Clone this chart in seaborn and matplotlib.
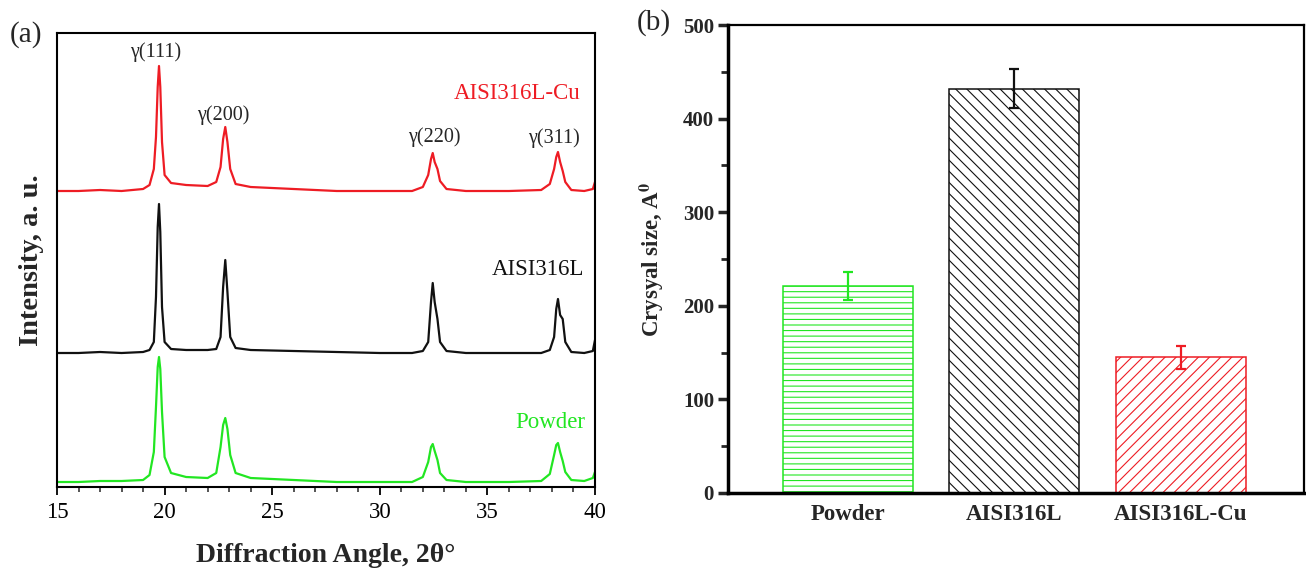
import numpy as np
import pandas as pd
import matplotlib
matplotlib.use("Agg")
import matplotlib.pyplot as plt
from matplotlib.ticker import MultipleLocator
import seaborn as sns

sns.set_theme(style="ticks")
plt.rcParams['font.family'] = ['Liberation Serif', 'DejaVu Serif']
plt.rcParams['mathtext.fontset'] = 'stix'
plt.rcParams['hatch.linewidth'] = 0.8

# ---- panel (a): XRD patterns (intensity in a.u.) ----
tth = [15.0, 16.0, 17.0, 18.0, 19.0, 19.3, 19.5, 19.6, 19.68, 19.74, 19.8, 19.88, 20.0, 20.3,
       21.0, 22.0, 22.4, 22.6, 22.72, 22.82, 22.92, 23.05, 23.3, 24.0, 26.0, 28.0, 30.0,
       31.5, 32.0, 32.25, 32.38, 32.46, 32.55, 32.68, 32.8, 33.1, 34.0, 36.0, 37.5, 37.9,
       38.1, 38.2, 38.28, 38.38, 38.5, 38.62, 38.9, 39.5, 39.9, 40.0]

cu_int = [296, 296, 297, 296, 298, 302, 318, 350, 400, 421, 400, 345, 312, 304,
          302, 301, 305, 320, 348, 360, 345, 318, 303, 300, 298, 296, 296,
          296, 300, 312, 328, 334, 325, 318, 306, 298, 296, 296, 297, 303,
          318, 330, 335, 325, 316, 305, 297, 296, 298, 305]

ss_int = [134, 134, 135, 134, 135, 137, 145, 190, 260, 283, 255, 180, 145, 138,
          137, 137, 138, 150, 200, 227, 195, 150, 139, 137, 136, 135, 134,
          134, 136, 145, 185, 204, 185, 168, 145, 136, 134, 134, 134, 137,
          150, 178, 188, 172, 168, 145, 135, 134, 136, 147]

powder_int = [5, 5, 6, 6, 7, 12, 35, 80, 120, 130, 118, 75, 30, 14,
              10, 9, 14, 40, 62, 69, 58, 32, 14, 9, 7, 5, 5,
              5, 10, 25, 40, 43, 36, 27, 14, 7, 5, 5, 6, 13,
              32, 42, 44, 35, 26, 15, 7, 6, 9, 15]

peak_labels = ["γ(111)", "γ(200)", "γ(220)", "γ(311)"]
peak_pos = [19.58, 22.73, 32.54, 38.11]
peak_lab_y = [435, 372, 350, 349]

# ---- panel (b): crystal size ----
samples = ["Powder", "AISI316L", "AISI316L-Cu"]
size = [221, 432, 145]
size_err = [15, 21, 12]

RED = '#ee1c24'
GREEN = '#22e622'
BLACK = '#111111'
colors = [GREEN, BLACK, RED]
hatches = ['---', '\\\\\\', '///']

fig = plt.figure(figsize=(13.06, 5.70), dpi=100)
ax1 = fig.add_axes([0.04364, 0.14561, 0.41194, 0.79649])
ax2 = fig.add_axes([0.55743, 0.13509, 0.44100, 0.82105])

# panel a
sns.lineplot(x=tth, y=cu_int, color=RED, lw=1.6, ax=ax1)
sns.lineplot(x=tth, y=ss_int, color=BLACK, lw=1.6, ax=ax1)
sns.lineplot(x=tth, y=powder_int, color=GREEN, lw=1.6, ax=ax1)
ax1.set_xlim(15, 40)
ax1.set_ylim(0, 454)
ax1.set_yticks([])
ax1.xaxis.set_major_locator(MultipleLocator(5))
ax1.xaxis.set_minor_locator(MultipleLocator(1))
ax1.tick_params(axis='x', which='major', direction='out', length=6, width=1.3,
                labelsize=16.5, colors='black', pad=5)
ax1.tick_params(axis='x', which='minor', direction='out', length=3.5, width=1.1)
for s in ax1.spines.values():
    s.set_linewidth(1.5)
    s.set_color('black')
for lab, xp, yp in zip(peak_labels, peak_pos, peak_lab_y):
    ax1.text(xp, yp, lab, ha='center', va='center', fontsize=14.5)
ax1.text(39.35, 394, "AISI316L-Cu", color=RED, ha='right', va='center', fontsize=16.5)
ax1.text(39.49, 218, "AISI316L", color=BLACK, ha='right', va='center', fontsize=16.5)
ax1.text(39.53, 65, "Powder", color=GREEN, ha='right', va='center', fontsize=16.5)
ax1.set_xlabel("Diffraction Angle, 2θ°", fontsize=20, fontweight='bold', labelpad=14)
ax1.set_ylabel("Intensity, a. u.", fontsize=20.5, fontweight='bold', labelpad=9)
fig.text(0.0199, 0.9386, "(a)", fontsize=21, va='center', ha='center')

# panel b
df = pd.DataFrame({"sample": samples, "size": size})
sns.barplot(data=df, x="sample", y="size", ax=ax2, width=0.78,
            color='white', errorbar=None)
for p, c, h in zip(ax2.patches, colors, hatches):
    p.set_facecolor('white')
    p.set_edgecolor(c)
    p.set_hatch(h)
    p.set_linewidth(1.1)
for i in range(len(samples)):
    ax2.errorbar(i, size[i], yerr=size_err[i], color=colors[i], capsize=3.6,
                 elinewidth=1.6, capthick=1.6, fmt='none')
ax2.set_xlim(-0.72, 2.74)
ax2.set_ylim(0, 500)
ax2.yaxis.set_major_locator(MultipleLocator(100))
ax2.yaxis.set_minor_locator(MultipleLocator(50))
ax2.tick_params(axis='y', which='major', direction='out', length=7, width=2.5,
                labelsize=15, pad=3)
ax2.tick_params(axis='y', which='minor', direction='out', length=5, width=2)
ax2.tick_params(axis='x', which='both', length=0, labelsize=16.5, pad=8)
for lab in ax2.get_xticklabels() + ax2.get_yticklabels():
    lab.set_fontweight('bold')
for name, s in ax2.spines.items():
    s.set_color('black')
    s.set_linewidth(2.5 if name in ('left', 'bottom') else 1.6)
ax2.set_xlabel("")
ax2.set_ylabel("Crysyal size, A$^{\\mathbf{0}}$", fontsize=16.5, fontweight='bold', labelpad=12)
fig.text(0.5008, 0.9596, "(b)", fontsize=21, va='center', ha='center')

fig.savefig("out.png", dpi=100)
